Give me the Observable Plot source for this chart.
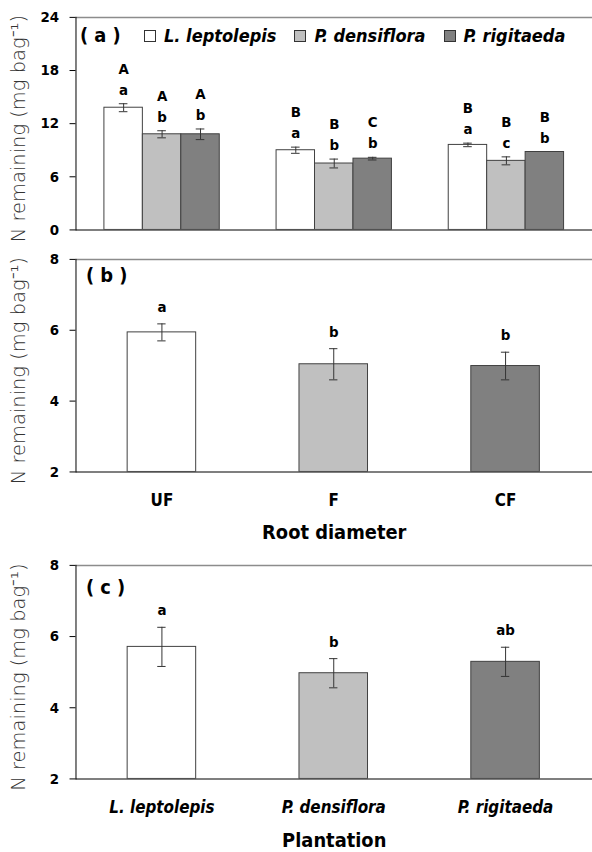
<!DOCTYPE html>
<html><head><meta charset="utf-8">
<script src="https://cdn.jsdelivr.net/npm/d3@7"></script>
<script src="https://cdn.jsdelivr.net/npm/@observablehq/plot@0.6"></script>
<style>
html,body{margin:0;padding:0;background:#fff;overflow:hidden;width:592px;height:852px}
#wrap{position:relative;width:592px;height:852px;overflow:hidden}
.panel{position:absolute;left:0}
svg{display:block;overflow:visible}
.legend{position:absolute;top:25px;left:144px;width:450px;display:flex;flex-wrap:nowrap;white-space:nowrap;align-items:center;font-family:"DejaVu Sans Condensed","DejaVu Sans",sans-serif;font-weight:bold;font-style:italic;font-size:18px;color:#000}
.legend .item{display:flex;align-items:center;margin-right:18px;white-space:nowrap}
.legend .sw{width:10px;height:10px;border:1px solid #333;margin-right:8px;flex:none}
</style></head><body><div id="wrap"></div>
<script>
// ---- categories ----
const rootClasses = ["UF", "F", "CF"];
const species = ["L. leptolepis", "P. densiflora", "P. rigitaeda"];
const speciesColors = ["#ffffff", "#c0c0c0", "#808080"];

// ---- panel (a): N remaining by root class for each plantation ----
const aLeptolepisMean = [13.8, 9.0, 9.6];
const aLeptolepisSE = [0.45, 0.35, 0.2];
const aLeptolepisUpper = ["A", "B", "B"];
const aLeptolepisLower = ["a", "a", "a"];
const aDensifloraMean = [10.8, 7.5, 7.8];
const aDensifloraSE = [0.4, 0.5, 0.45];
const aDensifloraUpper = ["A", "B", "B"];
const aDensifloraLower = ["b", "b", "c"];
const aRigitaedaMean = [10.8, 8.05, 8.8];
const aRigitaedaSE = [0.6, 0.15, 0];
const aRigitaedaUpper = ["A", "C", "B"];
const aRigitaedaLower = ["b", "b", "b"];
const aTicks = [0, 6, 12, 18, 24];

// ---- panel (b): by root diameter ----
const rootMean = [5.94, 5.04, 4.99];
const rootSE = [0.24, 0.44, 0.39];
const rootLetters = ["a", "b", "b"];

// ---- panel (c): by plantation ----
const plantMean = [5.71, 4.97, 5.29];
const plantSE = [0.55, 0.41, 0.41];
const plantLetters = ["a", "b", "ab"];
const bcTicks = [2, 4, 6, 8];

const yTitle = "N remaining (mg bag\u207B\u00B9)";
const FONT = '"DejaVu Sans Condensed","DejaVu Sans",sans-serif';
const wrap = document.getElementById("wrap");

function place(node, top) {
  const d = document.createElement("div");
  d.className = "panel";
  d.style.top = top + "px";
  d.appendChild(node);
  wrap.appendChild(d);
  return d;
}

// build panel a rows: each root class occupies one unit on a linear x scale,
// the three plantation bars share the central part of it
const groupPad = 0.33;
const barW = (1 - groupPad) / species.length;
const capHalf = 0.025;
const aMeans = [aLeptolepisMean, aDensifloraMean, aRigitaedaMean];
const aSEs = [aLeptolepisSE, aDensifloraSE, aRigitaedaSE];
const aUppers = [aLeptolepisUpper, aDensifloraUpper, aRigitaedaUpper];
const aLowers = [aLeptolepisLower, aDensifloraLower, aRigitaedaLower];
const rowsA = rootClasses.flatMap((g, gi) => species.map((s, si) => {
  const x1 = gi + groupPad / 2 + si * barW;
  return {group: g, species: s, x1, x2: x1 + barW, xc: x1 + barW / 2,
    mean: aMeans[si][gi], se: aSEs[si][gi], upper: aUppers[si][gi], lower: aLowers[si][gi]};
}));
const errA = rowsA.filter(d => d.se > 0);
const capsA = errA.flatMap(d => [{...d, v: d.mean - d.se}, {...d, v: d.mean + d.se}]);

const txt = {fontFamily: FONT, fontWeight: "bold", fill: "#000"};
const titleStyle = {frameAnchor: "left", textAnchor: "middle", lineAnchor: "middle", rotate: -90, dx: -58, dy: 5, fontSize: 19.6, fontFamily: "DejaVu Sans", fontWeight: 200, fill: "#333"};

const plotA = Plot.plot({
  width: 596, height: 245,
  marginLeft: 76, marginRight: 0, marginTop: 17, marginBottom: 14,
  style: {fontFamily: FONT, background: "transparent", overflow: "visible"},
  x: {type: "linear", domain: [0, rootClasses.length], axis: null},
  y: {domain: [0, 24], axis: null},
  color: {domain: species, range: speciesColors},
  marks: [
    Plot.ruleY([24], {stroke: "#8c8c8c", strokeWidth: 1.5}),
    Plot.rectY(rowsA, {x1: "x1", x2: "x2", y1: () => 0, y2: "mean", fill: "species", stroke: "#404040", strokeWidth: 1}),
    Plot.ruleX(errA, {x: "xc", y1: d => d.mean - d.se, y2: d => d.mean + d.se, stroke: "#333"}),
    Plot.ruleY(capsA, {y: "v", x1: d => d.xc - capHalf, x2: d => d.xc + capHalf, stroke: "#333"}),
    Plot.text(rowsA, {x: "xc", y: d => d.mean + d.se, text: "lower", dy: -14, fontSize: 15, ...txt}),
    Plot.text(rowsA, {x: "xc", y: d => d.mean + d.se, text: "upper", dy: -35, fontSize: 15, ...txt}),
    Plot.ruleY([0], {stroke: "#555", strokeWidth: 1.5}),
    Plot.frame({anchor: "left", stroke: "#000"}),
    Plot.axisY({ticks: aTicks, tickFormat: d => String(d), tickSize: 6, tickPadding: 11, fontSize: 15, fontWeight: "bold", fontFamily: FONT, label: null}),
    Plot.text(["( a )"], {text: d => d, frameAnchor: "top-left", textAnchor: "start", lineAnchor: "middle", dx: 4, dy: 18, fontSize: 20, ...txt}),
    Plot.text([yTitle], {text: d => d, ...titleStyle})
  ]
});
const panelA = place(plotA, 0);

// legend for panel a
const leg = document.createElement("div");
leg.className = "legend";
species.forEach((s, i) => {
  const it = document.createElement("div");
  it.className = "item";
  const sw = document.createElement("span");
  sw.className = "sw";
  sw.style.background = speciesColors[i];
  const lb = document.createElement("span");
  lb.textContent = s;
  it.appendChild(sw); it.appendChild(lb);
  leg.appendChild(it);
});
panelA.appendChild(leg);

function simplePanel({cats, means, ses, letters, label, panelLabel, italic, top, height, mTop, mBottom, labelDx, labelDy, tickPad, titleDy}) {
  const rows = cats.map((c, i) => ({cat: c, mean: means[i], se: ses[i], letter: letters[i]}));
  const caps = rows.flatMap(d => [{...d, v: d.mean - d.se}, {...d, v: d.mean + d.se}]);
  const p = Plot.plot({
    width: 596, height,
    marginLeft: 76, marginRight: 0, marginTop: mTop, marginBottom: mBottom,
    style: {fontFamily: FONT, background: "transparent", overflow: "visible"},
    x: {domain: cats, paddingInner: 0.6, paddingOuter: 0.3, axis: null},
    y: {domain: [2, 8], axis: null},
    color: {domain: cats, range: speciesColors},
    marks: [
      Plot.ruleY([8], {stroke: "#8c8c8c", strokeWidth: 1.5}),
      Plot.barY(rows, {x: "cat", y1: () => 2, y2: "mean", fill: "cat", stroke: "#404040", strokeWidth: 1}),
      Plot.ruleX(rows, {x: "cat", y1: d => d.mean - d.se, y2: d => d.mean + d.se, stroke: "#333"}),
      Plot.tickY(caps, {x: "cat", y: "v", stroke: "#333", insetLeft: 30.3, insetRight: 30.3}),
      Plot.text(rows, {x: "cat", y: d => d.mean + d.se, text: "letter", dy: -17, fontSize: 15, ...txt}),
      Plot.ruleY([2], {stroke: "#555", strokeWidth: 1.5}),
      Plot.frame({anchor: "left", stroke: "#000"}),
      Plot.axisY({ticks: bcTicks, tickFormat: d => String(d), tickSize: 6, tickPadding: 11, fontSize: 15, fontWeight: "bold", fontFamily: FONT, label: null}),
      Plot.axisX({tickSize: 0, tickPadding: tickPad, fontSize: 17, fontWeight: "bold", fontStyle: italic ? "italic" : "normal", fontFamily: FONT, label: null}),
      Plot.text([label], {text: d => d, frameAnchor: "bottom", lineAnchor: "middle", dy: titleDy, fontSize: 20, ...txt}),
      Plot.text([panelLabel], {text: d => d, frameAnchor: "top-left", textAnchor: "start", lineAnchor: "middle", dx: labelDx, dy: labelDy, fontSize: 20, ...txt}),
      Plot.text([yTitle], {text: d => d, ...titleStyle})
    ]
  });
  place(p, top);
}

simplePanel({cats: rootClasses, means: rootMean, ses: rootSE, letters: rootLetters,
  label: "Root diameter", panelLabel: "( b )", italic: false,
  top: 245, height: 303, mTop: 14, mBottom: 75, labelDx: 10, labelDy: 16, tickPad: 22, titleDy: 61});

simplePanel({cats: species, means: plantMean, ses: plantSE, letters: plantLetters,
  label: "Plantation", panelLabel: "( c )", italic: true,
  top: 548, height: 304, mTop: 17, mBottom: 72, labelDx: 10, labelDy: 22, tickPad: 22, titleDy: 62});
</script>
</body></html>
